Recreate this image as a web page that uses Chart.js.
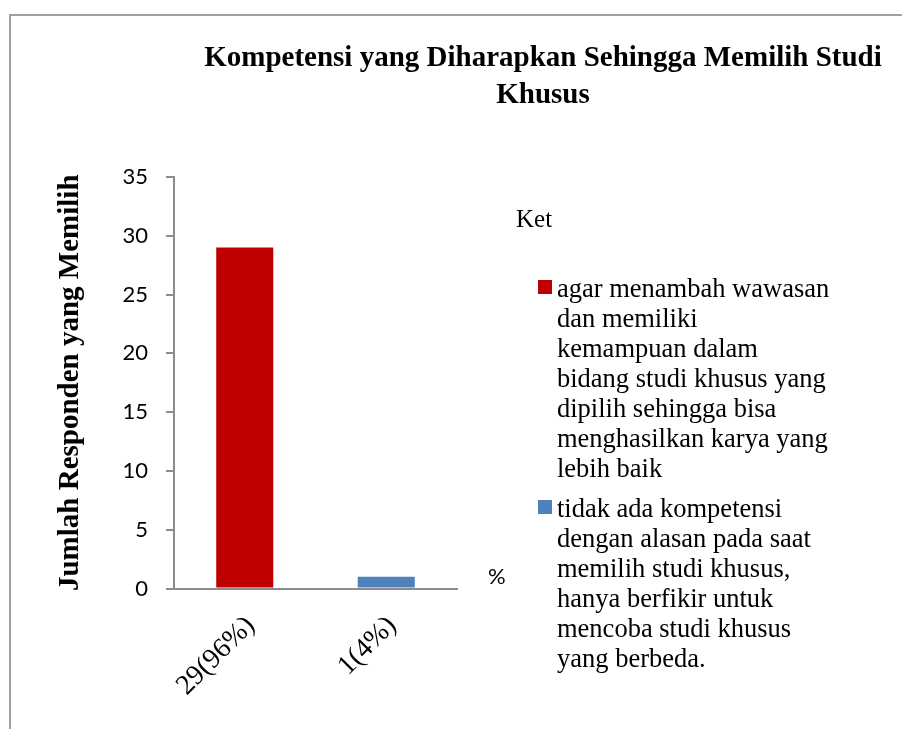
<!DOCTYPE html>
<html>
<head>
<meta charset="utf-8">
<script src="https://cdn.jsdelivr.net/npm/chart.js@4.4.1/dist/chart.umd.min.js"></script>
<style>
  html, body { margin: 0; padding: 0; background: #fff; }
  #wrap { width: 902px; height: 729px; position: relative; }
</style>
</head>
<body>
<div id="wrap"><canvas id="chart"></canvas></div>
<script>
// data
var categories = ['29(96%)', '1(4%)'];
var responden = [29, 1];
var barColors = ['#C00000', '#4F81BD'];
var legendTexts = [
    ['agar menambah wawasan', 'dan memiliki', 'kemampuan dalam', 'bidang studi khusus yang', 'dipilih sehingga bisa', 'menghasilkan karya yang', 'lebih baik'],
    ['tidak ada kompetensi', 'dengan alasan pada saat', 'memilih studi khusus,', 'hanya berfikir untuk', 'mencoba studi khusus', 'yang berbeda.']
];
var yTicks = [0, 5, 10, 15, 20, 25, 30, 35];
var chartTitle = ['Kompetensi yang Diharapkan Sehingga Memilih Studi', 'Khusus'];
var yTitle = 'Jumlah Responden yang Memilih';

var serif = '"Liberation Serif", "Times New Roman", serif';
var sans = 'Lato, "Liberation Sans", sans-serif';

// frame, title, legend box and the "%" label
var extras = {
    id: 'extras',
    beforeDraw: function(chart) {
        var ctx = chart.ctx;
        ctx.save();
        ctx.strokeStyle = '#a0a0a0';
        ctx.lineWidth = 2;
        ctx.beginPath();
        ctx.moveTo(10, 729);
        ctx.lineTo(10, 15);
        ctx.lineTo(902, 15);
        ctx.stroke();
        ctx.restore();
    },
    afterDraw: function(chart) {
        var ctx = chart.ctx;
        ctx.save();
        ctx.fillStyle = '#000';
        ctx.textAlign = 'center';
        ctx.textBaseline = 'alphabetic';
        ctx.font = 'bold 29px ' + serif;
        ctx.fillText(chartTitle[0], 543, 66);
        ctx.fillText(chartTitle[1], 543, 103);

        ctx.textAlign = 'left';
        ctx.font = '25px ' + serif;
        ctx.fillText('Ket', 516, 227);

        ctx.font = '26.5px ' + serif;
        var firstLine = [297, 517];
        for (var i = 0; i < legendTexts.length; i++) {
            ctx.fillStyle = barColors[i];
            ctx.fillRect(538, firstLine[i] - 17, 14, 14);
            ctx.fillStyle = '#000';
            for (var j = 0; j < legendTexts[i].length; j++) {
                ctx.fillText(legendTexts[i][j], 557, firstLine[i] + j * 30);
            }
        }

        ctx.font = '22px ' + sans;
        ctx.fillText('%', 488, 584);
        ctx.restore();
    }
};

var ctx = document.getElementById('chart');
new Chart(ctx, {
    type: 'bar',
    data: {
        labels: categories,
        datasets: [{
            data: responden,
            backgroundColor: barColors,
            barPercentage: 0.403,
            categoryPercentage: 1
        }]
    },
    options: {
        responsive: true,
        maintainAspectRatio: false,
        animation: false,
        layout: { padding: { left: 0, right: 445, top: 177, bottom: 0 } },
        plugins: {
            legend: { display: false },
            title: { display: false },
            tooltip: { enabled: false }
        },
        scales: {
            x: {
                grid: { display: false },
                border: { color: '#8c8c8c', width: 2 },
                ticks: {
                    minRotation: 45,
                    maxRotation: 45,
                    color: '#000',
                    padding: 13,
                    labelOffset: 6,
                    font: { family: serif, size: 28 }
                },
                afterFit: function(scale) { scale.height = 140.5; }
            },
            y: {
                min: 0,
                max: 35,
                afterBuildTicks: function(scale) {
                    scale.ticks = yTicks.map(function(v) { return { value: v }; });
                },
                grid: {
                    drawOnChartArea: false,
                    drawTicks: true,
                    tickLength: 8,
                    color: '#8c8c8c',
                    lineWidth: 2
                },
                border: { color: '#8c8c8c', width: 2 },
                ticks: {
                    color: '#000',
                    padding: 18,
                    font: { family: sans, size: 22 }
                },
                title: {
                    display: true,
                    text: yTitle,
                    color: '#000',
                    padding: { top: 53, bottom: 0 },
                    font: { family: serif, size: 29, weight: 'bold' }
                },
                afterFit: function(scale) { scale.width = 174; }
            }
        }
    },
    plugins: [extras]
});
</script>
</body>
</html>
